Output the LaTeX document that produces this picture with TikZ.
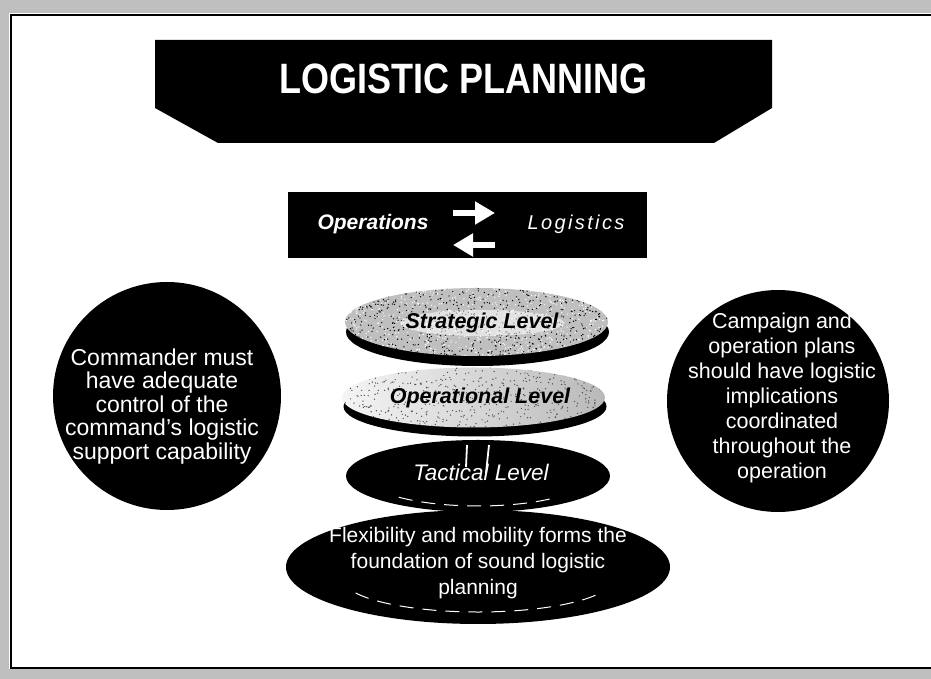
\documentclass[tikz,border=0pt]{standalone}
\usepackage{fontspec}
\setmainfont{Liberation Sans}
\usetikzlibrary{shapes.geometric,arrows.meta,calc}
\begin{document}
\begin{tikzpicture}[x=1pt,y=1pt,
  lvl/.style={ellipse, inner sep=0pt, outer sep=0pt},
  circ/.style={circle, fill=black, inner sep=0pt},
  wtext/.style={text=white, align=center, inner sep=0pt},
  lvltext/.style={font=\bfseries\itshape\fontsize{21.5}{24}\selectfont, inner sep=0pt},
  barrow/.style={white, line width=6pt, -{Triangle[length=20pt,width=22pt]}},
  hilite/.style={white, line width=1pt, dash pattern=on 14pt off 9pt}]
\useasboundingbox (0,0) rectangle (931,679);
\clip (0,0) rectangle (931,679);
\fill[white] (0,0) rectangle (931,679);
% scanned border bands
\fill[gray!50] (0,666) rectangle (931,679);
\fill[gray!50] (0,0) rectangle (9,679);
\fill[gray!50] (0,0) rectangle (931,10);
\draw[line width=1.5pt] (11,11) rectangle (945,664);
% title banner
\fill (155,639) -- (772,639) -- (772,571) -- (714,536) -- (218,536) -- (155,571) -- cycle;
\node[wtext, font=\bfseries\fontsize{36}{40}\selectfont, yscale=1.18, transform shape] (title) at (463.5,600) {LOGISTIC PLANNING};
% operations / logistics bar
\node[fill=black, minimum width=359pt, minimum height=66pt, inner sep=0pt] (bar) at (467.5,454) {};
\node[wtext, font=\bfseries\itshape\fontsize{21}{24}\selectfont] (ops) at (373,455) {Operations};
\node[wtext, font=\itshape\fontsize{20}{24}\selectfont\addfontfeature{LetterSpace=12}] (log) at (576,455) {Logistics};
\coordinate (r1) at (453,466);
\coordinate (r2) at (495,466);
\coordinate (l1) at (495,434);
\coordinate (l2) at (453,434);
\draw[barrow] (r1) -- (r2);
\draw[barrow] (l1) -- (l2);
% foundation
\node[lvl, fill=black, minimum width=384pt, minimum height=114pt] (found) at (478,112) {};
\node[wtext, font=\fontsize{21}{26}\selectfont] (ftext) at (478,116) {Flexibility and mobility forms the\\foundation of sound logistic\\planning};
\draw[hilite] ([shift={(205:135 and 33)}]478,100) arc[start angle=205, end angle=335, x radius=135, y radius=33];
% tactical
\node[lvl, fill=black, minimum width=264pt, minimum height=72pt] (tac) at (478,203) {};
\node[wtext, font=\itshape\fontsize{22.5}{26}\selectfont] (ttext) at (481,207) {Tactical Level};
\draw[hilite] ([shift={(225:112 and 30)}]478,203) arc[start angle=225, end angle=315, x radius=112, y radius=30];
\draw[white, line width=1.8pt] (467,234) -- (466,212);
\draw[white, line width=1.8pt] (489,234) -- (486,206);
% operational
\fill[black] (475,272.5) ellipse [x radius=131.5, y radius=30];
\node[lvl, minimum width=263pt, minimum height=60pt, left color=gray!8, right color=gray!55] (oper) at (473.5,281.5) {};
\begin{scope}
  \clip (473.5,281.5) ellipse [x radius=131.5, y radius=30];
  \pgfmathsetseed{7}
  \foreach \i in {1,...,500} {\fill[black!70] (473.5+131*rand, 281.5+30*rand) circle (0.7);}
\end{scope}
\node[lvltext] (otext) at (480,281) {Operational Level};
% strategic
\fill[black] (477.5,347) ellipse [x radius=131.5, y radius=34];
\node[lvl, fill=gray!50, minimum width=263pt, minimum height=68pt] (strat) at (476.5,357) {};
\begin{scope}
  \clip (476.5,357) ellipse [x radius=131.5, y radius=34];
  \pgfmathsetseed{3}
  \foreach \i in {1,...,700} {\fill[white] (476.5+131*rand, 357+34*rand) circle (0.7);}
  \foreach \i in {1,...,700} {\fill[black] (476.5+131*rand, 357+34*rand) circle (0.7);}
  \fill[white, opacity=0.55] (482,356) ellipse [x radius=82, y radius=13];
\end{scope}
\node[lvltext] (stext) at (482,356) {Strategic Level};
% side circles
\node[circ, minimum size=228pt] (lc) at (167,283) {};
\node[wtext, font=\fontsize{23}{23.5}\selectfont] (ltext) at (162,272.5) {Commander must\\have adequate\\control of the\\command's logistic\\support capability};
\node[circ, minimum size=222pt] (rc) at (778,278) {};
\node[wtext, font=\fontsize{21.5}{25}\selectfont] (rtext) at (782,281) {Campaign and\\operation plans\\should have logistic\\implications\\coordinated\\throughout the\\operation};
\end{tikzpicture}
\end{document}
